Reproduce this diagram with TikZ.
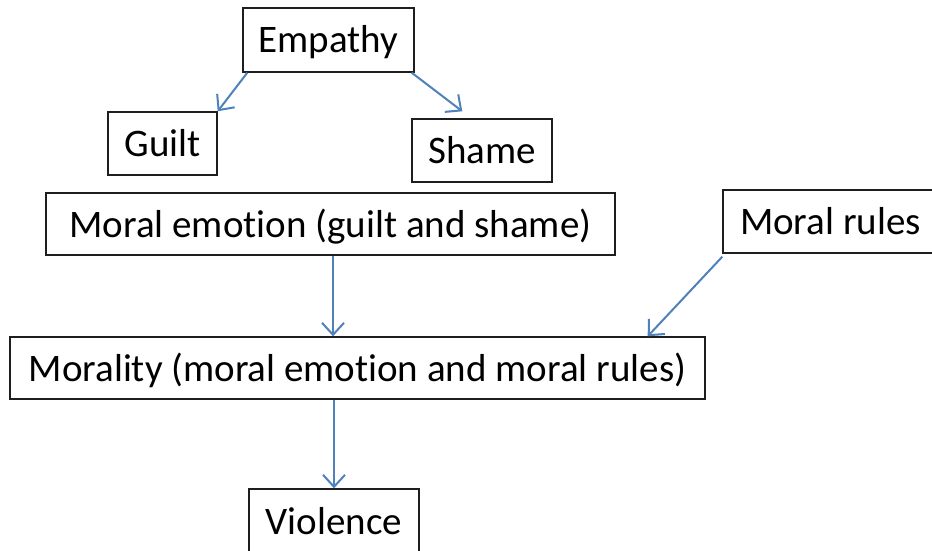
\documentclass[tikz,border=0pt]{standalone}
\usepackage{fontspec}
\setmainfont{Carlito}[Ligatures=NoCommon]
\usetikzlibrary{arrows.meta}
\definecolor{linkblue}{RGB}{79,129,189}
\definecolor{boxline}{RGB}{30,30,30}
\tikzset{
  box/.style={draw=boxline, line width=1.4pt, inner sep=0pt,
    text height=26pt, text depth=0pt,
    font=\fontsize{39}{46}\selectfont},
  link/.style={draw=linkblue, line width=2pt,
    -{Straight Barb[length=12pt, width=22pt, line width=2pt]}}
}
\begin{document}
\begin{tikzpicture}[x=1pt, y=-1pt]
  \useasboundingbox (0,0) rectangle (932,551);
  \clip (0,0) rectangle (932,551);
  \fill[white] (0,0) rectangle (932,551);

  % boxes
  \node[box, minimum width=171pt, minimum height=64pt] (emp) at (328.5,40) {Empathy};
  \node[box, minimum width=109pt, minimum height=63pt] (gui) at (162.5,143.5) {Guilt};
  \node[box, minimum width=140pt, minimum height=63pt] (sha) at (482,150.5) {Shame};
  \node[box, minimum width=569pt, minimum height=62pt] (me) at (330.5,224) {Moral emotion (guilt and shame)};
  \node[box, minimum width=215pt, minimum height=63pt] (mr) at (830.5,221.5) {Moral rules};
  \node[box, minimum width=695pt, minimum height=62pt] (mor) at (357.5,368) {Morality (moral emotion and moral rules)};
  \node[box, minimum width=170pt, minimum height=64pt] (vio) at (334,521) {Violence};

  % connectors
  \draw[link] ([xshift=5pt]emp.south west) -- (gui.north east);
  \draw[link] ([xshift=-3pt]emp.south east) -- ([xshift=51pt, yshift=7pt]sha.north west);
  \draw[link] ([xshift=2.5pt]me.south) -- ([xshift=2.5pt]me.south |- mor.north);
  \draw[link] ([yshift=-3pt]mr.south west) -- ([xshift=-58pt]mor.north east);
  \draw[link] (vio.north |- mor.south) -- (vio.north);
\end{tikzpicture}
\end{document}
